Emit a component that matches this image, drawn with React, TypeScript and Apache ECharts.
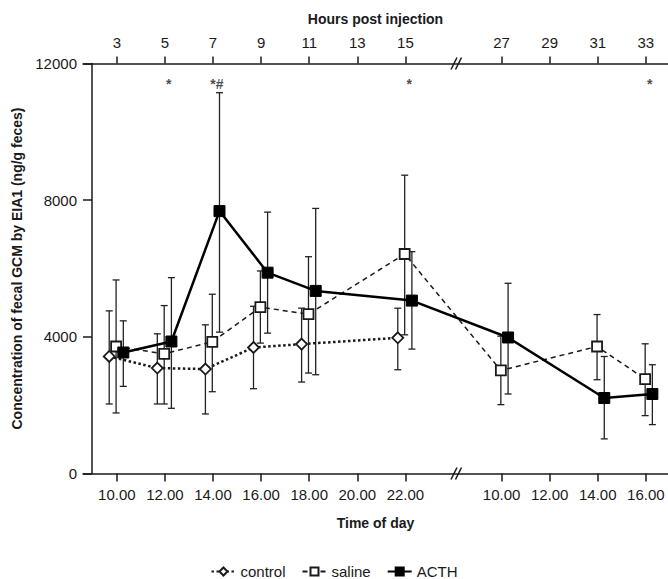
import React, { useEffect, useRef } from 'react';
import * as echarts from 'echarts';

// Axis categories (slot 7 is the axis break between day 1 and day 2)
const timeLabels = ['10.00', '12.00', '14.00', '16.00', '18.00', '20.00', '22.00', '10.00', '12.00', '14.00', '16.00'];
const hourLabels = ['3', '5', '7', '9', '11', '13', '15', '27', '29', '31', '33'];
const tickSlots = [0, 1, 2, 3, 4, 5, 6, 8, 9, 10, 11];
const breakSlot = 7;

// control (indices into timeLabels)
const controlIdx = [0, 1, 2, 3, 4, 6];
const controlMean = [3425, 3086, 3057, 3688, 3787, 3971];
const controlLow = [2035, 2035, 1743, 2482, 2677, 3037];
const controlHigh = [4760, 4088, 4351, 4894, 4840, 4838];

// saline
const salineIdx = [0, 1, 2, 3, 4, 6, 7, 9, 10];
const salineMean = [3717, 3504, 3854, 4868, 4663, 6424, 3017, 3717, 2765];
const salineLow = [1772, 2035, 2394, 3816, 2940, 4059, 2015, 2745, 1694];
const salineHigh = [5665, 4915, 5247, 5928, 6345, 8731, 4019, 4652, 3796];

// ACTH
const acthIdx = [0, 1, 2, 3, 4, 6, 7, 9, 10];
const acthMean = [3542, 3863, 7680, 5878, 5344, 5061, 3981, 2210, 2327];
const acthLow = [2550, 1908, 4137, 4108, 2891, 3641, 2327, 1013, 1431];
const acthHigh = [4468, 5732, 11145, 7650, 7758, 6492, 5568, 3425, 3183];

// significance marks
const sigIdx = [1, 2, 6, 10];
const sigMarks = ['*', '*#', '*', '*'];
const sigLevel = 11400;

const FONT = 'Liberation Sans, Arial, Helvetica, sans-serif';
const INK = '#1a1a1a';
const XMIN = -0.703;
const XMAX = 11.46;
const OFF_CONTROL = -0.158;
const OFF_SALINE = -0.015;
const OFF_ACTH = 0.135;

function pts(idx: number[], vals: number[], off: number) {
  return idx.map((t, i) => [tickSlots[t] + off, vals[i]]);
}

function errorSeries(name: string, idx: number[], lo: number[], hi: number[], off: number) {
  return {
    type: 'custom',
    name: name + ' sd',
    xAxisIndex: 0,
    yAxisIndex: 0,
    z: 1,
    silent: true,
    encode: { x: 0, y: [1, 2] },
    data: idx.map((t, i) => [tickSlots[t] + off, lo[i], hi[i]]),
    renderItem: (_p: any, api: any) => {
      const x = api.value(0);
      const a = api.coord([x, api.value(1)]);
      const b = api.coord([x, api.value(2)]);
      const w = 3.5;
      const style = { stroke: '#222', lineWidth: 1.3, fill: null };
      return {
        type: 'group',
        children: [
          { type: 'line', shape: { x1: a[0], y1: a[1], x2: b[0], y2: b[1] }, style },
          { type: 'line', shape: { x1: a[0] - w, y1: a[1], x2: a[0] + w, y2: a[1] }, style },
          { type: 'line', shape: { x1: b[0] - w, y1: b[1], x2: b[0] + w, y2: b[1] }, style },
        ],
      };
    },
  };
}

const axisLineStyle = { color: INK, width: 1.5 };

export default function App() {
  const ref = useRef<HTMLDivElement>(null);

  useEffect(() => {
    const chart = echarts.init(ref.current!, undefined, { renderer: 'svg' });
    const option: any = {
      animation: false,
      backgroundColor: '#fff',
      textStyle: { fontFamily: FONT, color: INK },
      grid: { left: 83, right: 0, top: 63.5, bottom: 105.5, containLabel: false },
      legend: {
        data: ['control', 'saline', 'ACTH'],
        top: 559,
        left: 'center',
        itemWidth: 24,
        itemHeight: 10,
        itemGap: 16,
        textStyle: { fontSize: 15, color: INK, fontFamily: FONT },
      },
      xAxis: [
        {
          type: 'value',
          position: 'bottom',
          min: XMIN,
          max: XMAX,
          axisLine: { show: true, onZero: false, lineStyle: axisLineStyle },
          axisTick: { show: true, customValues: tickSlots, length: 8, lineStyle: axisLineStyle },
          axisLabel: {
            customValues: tickSlots,
            formatter: (v: number) => timeLabels[tickSlots.indexOf(Math.round(v))] ?? '',
            fontSize: 15,
            color: INK,
            margin: 13,
            fontFamily: FONT,
          },
          splitLine: { show: false },
          name: 'Time of day',
          nameLocation: 'middle',
          nameGap: 42,
          nameTextStyle: { fontSize: 14, fontWeight: 'bold', color: INK, fontFamily: FONT },
        },
        {
          type: 'value',
          position: 'top',
          min: XMIN,
          max: XMAX,
          axisLine: { show: true, onZero: false, lineStyle: axisLineStyle },
          axisTick: { show: true, customValues: tickSlots, length: 7, lineStyle: axisLineStyle },
          axisLabel: {
            customValues: tickSlots,
            formatter: (v: number) => hourLabels[tickSlots.indexOf(Math.round(v))] ?? '',
            fontSize: 15,
            color: INK,
            margin: 14,
            fontFamily: FONT,
          },
          splitLine: { show: false },
          name: 'Hours post injection',
          nameLocation: 'middle',
          nameGap: 38,
          nameTextStyle: { fontSize: 14, fontWeight: 'bold', color: INK, fontFamily: FONT },
        },
      ],
      yAxis: {
        type: 'value',
        min: 0,
        max: 12000,
        interval: 4000,
        offset: -9,
        axisLine: { show: true, onZero: false, lineStyle: axisLineStyle },
        axisTick: { show: true, length: 9, lineStyle: axisLineStyle },
        axisLabel: {
          fontSize: 15,
          color: INK,
          margin: 15,
          fontFamily: FONT,
          formatter: (v: number) => String(v),
        },
        splitLine: { show: false },
        name: 'Concentration of fecal GCM by EIA1 (ng/g feces)',
        nameLocation: 'middle',
        nameGap: 67,
        nameTextStyle: { fontSize: 14, fontWeight: 'bold', color: INK, fontFamily: FONT },
      },
      series: [
        errorSeries('control', controlIdx, controlLow, controlHigh, OFF_CONTROL),
        errorSeries('saline', salineIdx, salineLow, salineHigh, OFF_SALINE),
        errorSeries('ACTH', acthIdx, acthLow, acthHigh, OFF_ACTH),
        {
          type: 'line',
          name: 'control',
          z: 3,
          data: pts(controlIdx, controlMean, OFF_CONTROL),
          symbol: 'diamond',
          symbolSize: 11,
          lineStyle: { color: INK, width: 2.5, type: [2.5, 2.5] },
          itemStyle: { color: '#fff', borderColor: INK, borderWidth: 1.8 },
        },
        {
          type: 'line',
          name: 'saline',
          z: 4,
          data: pts(salineIdx, salineMean, OFF_SALINE),
          symbol: 'rect',
          symbolSize: 10,
          lineStyle: { color: INK, width: 1.5, type: [5, 4] },
          itemStyle: { color: '#fff', borderColor: INK, borderWidth: 1.8 },
        },
        {
          type: 'line',
          name: 'ACTH',
          z: 5,
          data: pts(acthIdx, acthMean, OFF_ACTH),
          symbol: 'rect',
          symbolSize: 11,
          lineStyle: { color: '#000', width: 2.5 },
          itemStyle: { color: '#000', borderColor: '#000', borderWidth: 1 },
        },
        {
          type: 'scatter',
          name: 'significance',
          z: 6,
          silent: true,
          symbolSize: 1,
          itemStyle: { color: 'transparent' },
          data: sigIdx.map((t) => [tickSlots[t] + 0.08, sigLevel]),
          label: {
            show: true,
            position: 'inside',
            formatter: (p: any) => sigMarks[p.dataIndex],
            fontSize: 14,
            fontWeight: 'bold',
            color: INK,
            fontFamily: FONT,
          },
        },
      ],
    };
    chart.setOption(option);

    const bx = chart.convertToPixel({ xAxisIndex: 0 }, breakSlot) as number;
    const yb = chart.convertToPixel({ yAxisIndex: 0 }, 0) as number;
    const yt = chart.convertToPixel({ yAxisIndex: 0 }, 12000) as number;
    const breaks: any[] = [];
    [yb, yt].forEach((y) => {
      [-2, 2.5].forEach((d) => {
        const cx = bx + 2.5 + d;
        breaks.push({
          type: 'line',
          z: 10,
          shape: { x1: cx - 3, y1: y + 6, x2: cx + 3, y2: y - 6 },
          style: { stroke: INK, lineWidth: 1.5 },
        });
      });
    });
    chart.setOption({ graphic: breaks });

    return () => chart.dispose();
  }, []);

  return <div ref={ref} style={{ position: 'fixed', left: 0, top: 0, width: 668, height: 579 }} />;
}
